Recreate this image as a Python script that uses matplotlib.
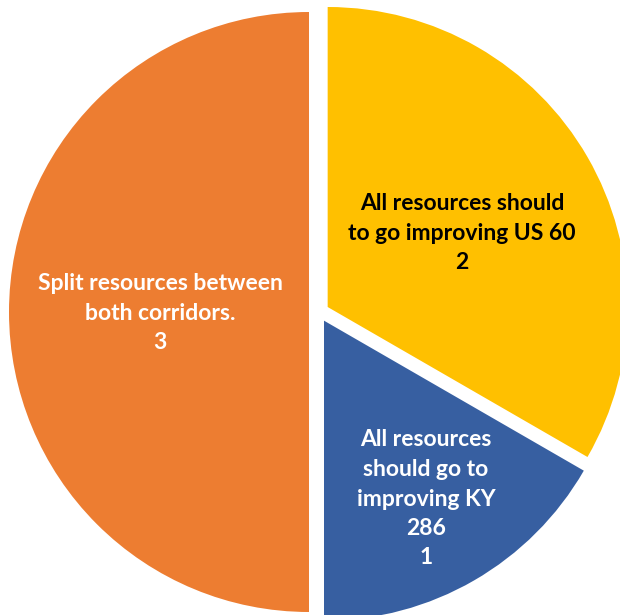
import matplotlib.pyplot as plt

labels = ['All resources should\nto go improving US 60', 'All resources\nshould go to\nimproving KY\n286', 'Split resources between\nboth corridors.']
values = [2, 1, 3]
colors = ['#FFC000', '#375FA1', '#ED7D31']
text_colors = ['black', 'white', 'white']
# label positions in pixel coordinates (x, y from top)
label_pos = [(462, 233), (426, 499), (160, 313)]

fig = plt.figure(figsize=(6.2, 6.15), dpi=100)
ax = fig.add_axes([0, 0, 1, 1])

# explode is in data units here (radius is 300)
ax.pie(values, colors=colors, startangle=90, counterclock=False,
       radius=300, center=(319, 615 - 312), explode=[10] * 3,
       wedgeprops={'linewidth': 0}, frame=True)
ax.set_xlim(0, 620)
ax.set_ylim(0, 615)
ax.set_aspect('equal')
ax.axis('off')

for lab, v, c, (x, y) in zip(labels, values, text_colors, label_pos):
    ax.text(x, 615 - y, lab + '\n' + str(v), ha='center', va='center',
            color=c, fontsize=16.5, fontweight='bold', family='Lato',
            linespacing=1.5)

fig.savefig('out.png', dpi=100)
